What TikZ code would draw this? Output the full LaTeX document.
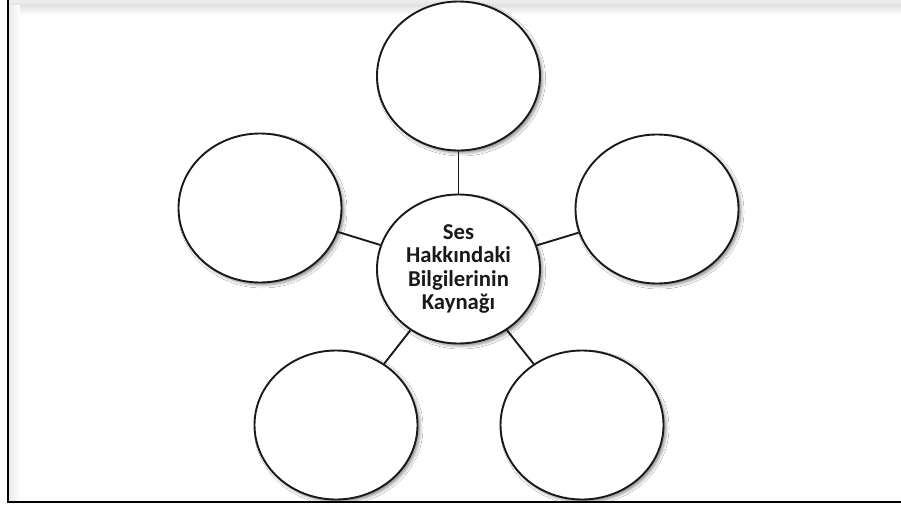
\documentclass[tikz,border=0pt]{standalone}
\usepackage{fontspec}
\setmainfont{Carlito}
\usetikzlibrary{shapes.geometric,shadows.blur}
\definecolor{ink}{HTML}{1A1A1A}
\definecolor{band}{HTML}{E2E2E2}
\begin{document}
\begin{tikzpicture}[x=1pt,y=-1pt,
  bubble/.style={ellipse, draw=ink, line width=1.9pt, fill=white,
    minimum width=163pt, minimum height=149pt, inner sep=0pt,
    blur shadow={shadow xshift=2.5pt, shadow yshift=-2.5pt,
      shadow blur radius=3pt, shadow opacity=45}},
  hub/.style={bubble, text=ink, align=center,
    font=\fontsize{22.7}{23.4}\selectfont\bfseries},
  link/.style={draw=ink, line width=1.9pt}]
  % page
  \fill[white] (0,0) rectangle (901,506);
  \useasboundingbox (0,0) rectangle (901,506);
  % soft inner shadow along the top and left edges of the frame
  \shade[top color=band!60, bottom color=band] (9,0) rectangle (901,5);
  \shade[top color=band, bottom color=white] (9,5) rectangle (901,15);
  \shade[left color=band!70, right color=white] (9,5) rectangle (20,501);
  % bubbles
  \node[hub]    (c)  at (458.5,269) {Ses\\Hakkındaki\\Bilgilerinin\\Kaynağı};
  \node[bubble] (t)  at (458.5,76)  {};
  \node[bubble] (l)  at (260,208)   {};
  \node[bubble] (r)  at (657,209)   {};
  \node[bubble] (bl) at (336,425)   {};
  \node[bubble] (br) at (582,425)   {};
  % spokes
  \draw[link] (c) -- (t);
  \draw[link] (c) -- (l);
  \draw[link] (c) -- (r);
  \draw[link] (c) -- (bl);
  \draw[link] (c) -- (br);
  % blank strip under the frame, then the frame lines
  \fill[white] (0,502) rectangle (901,506);
  \draw[black, line width=2pt] (8,0) -- (8,502) -- (901,502);
\end{tikzpicture}
\end{document}
